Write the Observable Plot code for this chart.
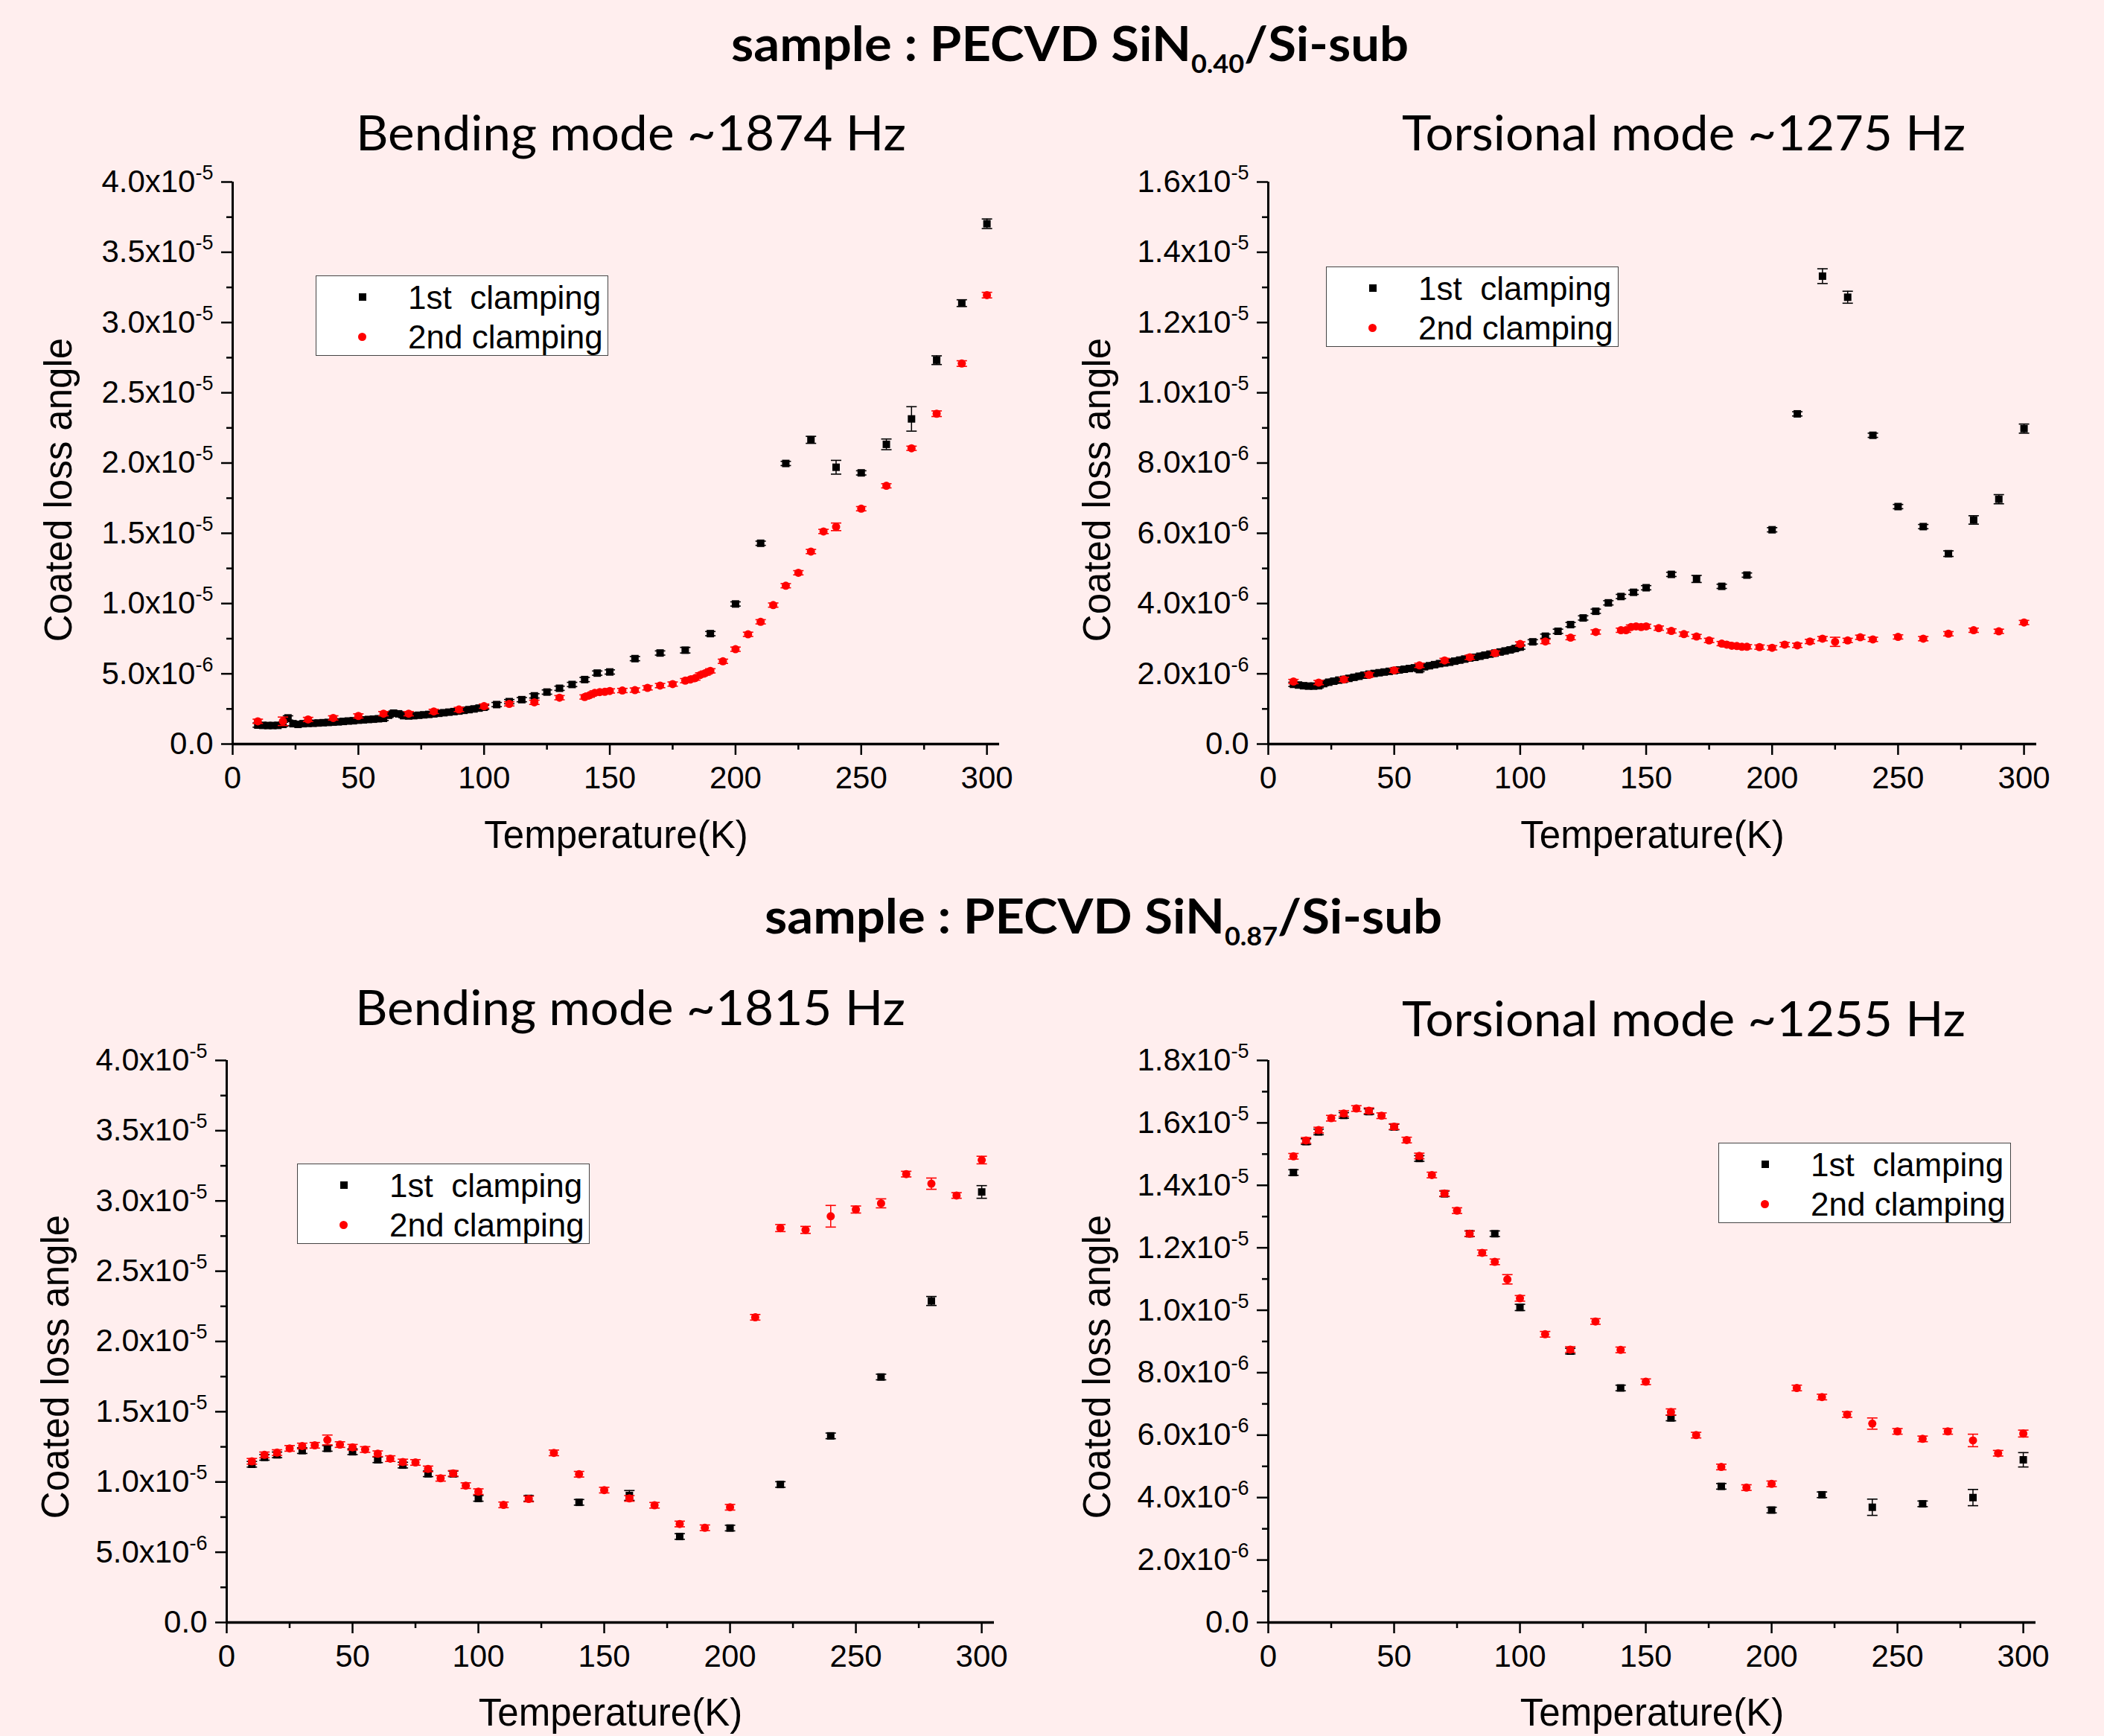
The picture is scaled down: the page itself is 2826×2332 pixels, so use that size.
<!DOCTYPE html>
<html>
<head>
<meta charset="utf-8">
<script src="https://cdn.jsdelivr.net/npm/d3@7"></script>
<script src="https://cdn.jsdelivr.net/npm/@observablehq/plot@0.6"></script>
<style>
  html, body { margin: 0; padding: 0; background: #FFEEEE; }
  #page { position: relative; width: 2826px; height: 2332px; background: #FFEEEE; overflow: hidden; }
  .legend { position: absolute; width: 393px; height: 108px; box-sizing: border-box; background: #fff; border: 1.5px solid #444; font-family: "Liberation Sans", Arial, sans-serif; font-size: 44px; }
  .legend .txt { position: absolute; left: 123px; line-height: 44px; white-space: pre; color: #000; }
  .legend .sq { position: absolute; width: 10px; height: 10px; background: #000; }
  .legend .dt { position: absolute; width: 11px; height: 11px; border-radius: 50%; background: #f00; }
</style>
</head>
<body>
<div id="page"></div>
<script>
// ---------- shared axes ----------
const xMajor = [0, 50, 100, 150, 200, 250, 300];
const xLabels = ["0", "50", "100", "150", "200", "250", "300"];
const xMinor = [25, 75, 125, 175, 225, 275];

// y values are in units of 1e-6
const yMajor40 = [0, 5, 10, 15, 20, 25, 30, 35, 40];
const yLabels40 = ["0.0", "5.0x10^-6", "1.0x10^-5", "1.5x10^-5", "2.0x10^-5", "2.5x10^-5", "3.0x10^-5", "3.5x10^-5", "4.0x10^-5"];
const yMinor40 = [2.5, 7.5, 12.5, 17.5, 22.5, 27.5, 32.5, 37.5];
const yMajor16 = [0, 2, 4, 6, 8, 10, 12, 14, 16];
const yLabels16 = ["0.0", "2.0x10^-6", "4.0x10^-6", "6.0x10^-6", "8.0x10^-6", "1.0x10^-5", "1.2x10^-5", "1.4x10^-5", "1.6x10^-5"];
const yMinor16 = [1, 3, 5, 7, 9, 11, 13, 15];
const yMajor18 = [0, 2, 4, 6, 8, 10, 12, 14, 16, 18];
const yLabels18 = ["0.0", "2.0x10^-6", "4.0x10^-6", "6.0x10^-6", "8.0x10^-6", "1.0x10^-5", "1.2x10^-5", "1.4x10^-5", "1.6x10^-5", "1.8x10^-5"];
const yMinor18 = [1, 3, 5, 7, 9, 11, 13, 15, 17];

const seriesNames = ["1st  clamping", "2nd clamping"];

// ---------- Panel A: SiN0.40 bending ~1874 Hz ----------
const A_T1 = [10,12,14,16,18,20,22,24,26,28,30,32,34,36,38,40,42,44,46,48,50,52,54,56,58,60,62,64,66,68,70,72,74,76,78,80,82,84,86,88,90,92,94,96,98,100,
  105,110,115,120,125,130,135,140,145,150,160,170,180,190,200,210,220,230,240,250,260,270,280,290,300];
const A_V1 = [1.35,1.33,1.32,1.32,1.33,1.40,1.86,1.45,1.40,1.45,1.47,1.48,1.50,1.52,1.54,1.56,1.58,1.61,1.64,1.66,1.70,1.72,1.75,1.77,1.80,1.83,2.05,2.20,2.15,2.02,2.00,2.02,2.05,2.08,2.11,2.15,2.19,2.23,2.27,2.31,2.35,2.40,2.45,2.50,2.56,2.62,
  2.81,3.02,3.16,3.43,3.70,3.97,4.24,4.59,5.05,5.13,6.08,6.48,6.68,7.86,9.97,14.29,19.97,21.65,19.70,19.30,21.33,23.14,27.32,31.38,37.03];
const A_E1 = [0.15,0.15,0.15,0.15,0.15,0.15,0.15,0.15,0.15,0.15,0.15,0.15,0.15,0.15,0.15,0.15,0.15,0.15,0.15,0.15,0.15,0.15,0.15,0.15,0.15,0.15,0.15,0.15,0.15,0.15,0.15,0.15,0.15,0.15,0.15,0.15,0.15,0.15,0.15,0.15,0.15,0.15,0.15,0.15,0.15,0.15,
  0.15,0.15,0.15,0.15,0.15,0.15,0.15,0.15,0.15,0.15,0.15,0.15,0.2,0.15,0.15,0.15,0.15,0.25,0.49,0.15,0.38,0.87,0.31,0.24,0.34];
const A_T2 = [10,20,30,40,50,60,70,80,90,100,110,120,130,140,142,144,146,148,150,155,160,165,170,175,180,182,184,186,188,190,195,200,205,210,215,220,225,230,235,240,250,260,270,280,290,300];
const A_V2 = [1.62,1.62,1.75,1.86,2.00,2.16,2.16,2.32,2.46,2.70,2.86,2.97,3.30,3.35,3.48,3.64,3.70,3.72,3.78,3.81,3.84,4.00,4.16,4.27,4.51,4.59,4.70,4.92,5.05,5.21,5.89,6.75,7.81,8.70,9.89,11.27,12.19,13.70,15.13,15.46,16.75,18.38,21.05,23.51,27.08,31.95];
const A_E2 = [0.15,0.3,0.15,0.15,0.15,0.15,0.15,0.15,0.15,0.15,0.15,0.15,0.15,0.15,0.15,0.15,0.15,0.15,0.15,0.15,0.15,0.15,0.15,0.15,0.15,0.15,0.15,0.15,0.15,0.15,0.15,0.15,0.15,0.15,0.15,0.15,0.15,0.15,0.15,0.27,0.15,0.15,0.15,0.2,0.2,0.2];

// ---------- Panel B: SiN0.40 torsional ~1275 Hz ----------
const B_T1 = [10,12,14,16,18,20,22,24,26,28,30,32,34,36,38,40,42,44,46,48,50,52,54,56,58,60,62,64,66,68,70,72,74,76,78,80,82,84,86,88,90,92,94,96,98,100,
  105,110,115,120,125,130,135,140,145,150,160,170,180,190,200,210,220,230,240,250,260,270,280,290,300];
const B_V1 = [1.70,1.68,1.66,1.65,1.65,1.66,1.72,1.76,1.79,1.82,1.84,1.87,1.90,1.93,1.96,1.99,2.01,2.03,2.05,2.07,2.09,2.11,2.13,2.15,2.17,2.12,2.20,2.23,2.26,2.29,2.31,2.33,2.36,2.39,2.42,2.45,2.47,2.50,2.53,2.56,2.59,2.62,2.65,2.68,2.72,2.76,
  2.91,3.07,3.21,3.40,3.59,3.78,4.02,4.20,4.32,4.45,4.83,4.70,4.49,4.81,6.10,9.40,13.32,12.72,8.79,6.76,6.19,5.42,6.38,6.97,8.98];
const B_E1 = [0.06,0.06,0.06,0.06,0.06,0.06,0.06,0.06,0.06,0.06,0.06,0.06,0.06,0.06,0.06,0.06,0.06,0.06,0.06,0.06,0.06,0.06,0.06,0.06,0.06,0.06,0.06,0.06,0.06,0.06,0.06,0.06,0.06,0.06,0.06,0.06,0.06,0.06,0.06,0.06,0.06,0.06,0.06,0.06,0.06,0.06,
  0.06,0.06,0.06,0.06,0.06,0.06,0.06,0.06,0.06,0.06,0.06,0.1,0.06,0.06,0.06,0.06,0.21,0.17,0.06,0.06,0.06,0.08,0.12,0.13,0.13];
const B_T2 = [10,20,30,40,50,60,70,80,90,100,110,120,130,140,142,144,146,148,150,155,160,165,170,175,180,182,184,186,188,190,195,200,205,210,215,220,225,230,235,240,250,260,270,280,290,300];
const B_V2 = [1.78,1.75,1.84,1.97,2.10,2.24,2.38,2.47,2.59,2.85,2.92,3.03,3.19,3.24,3.24,3.33,3.35,3.33,3.35,3.30,3.22,3.13,3.06,2.95,2.86,2.83,2.80,2.79,2.77,2.77,2.76,2.74,2.83,2.81,2.92,3.00,2.91,2.95,3.04,2.98,3.05,3.00,3.14,3.24,3.21,3.46];
const B_E2 = [0.06,0.06,0.06,0.06,0.06,0.06,0.06,0.06,0.06,0.06,0.06,0.06,0.06,0.06,0.06,0.06,0.06,0.06,0.06,0.06,0.06,0.06,0.06,0.06,0.06,0.06,0.06,0.06,0.06,0.06,0.06,0.06,0.06,0.06,0.06,0.06,0.13,0.06,0.06,0.06,0.06,0.06,0.06,0.06,0.06,0.06];

// ---------- Panel C: SiN0.87 bending ~1815 Hz ----------
const C_T1 = [10,15,20,30,40,50,60,70,80,90,100,120,140,160,180,200,220,240,260,280,300];
const C_V1 = [11.26,11.75,11.93,12.23,12.39,12.15,11.58,11.20,10.58,10.58,8.83,8.83,8.55,9.04,6.12,6.72,9.82,13.28,17.47,22.88,30.64];
const C_E1 = [0.2,0.2,0.2,0.2,0.2,0.2,0.2,0.2,0.2,0.2,0.2,0.2,0.2,0.35,0.2,0.2,0.2,0.2,0.2,0.32,0.45];
const C_T2 = [10,15,20,25,30,35,40,45,50,55,60,65,70,75,80,85,90,95,100,110,120,130,140,150,160,170,180,190,200,210,220,230,240,250,260,270,280,290,300];
const C_V2 = [11.47,11.93,12.09,12.39,12.56,12.61,12.99,12.66,12.47,12.31,12.01,11.66,11.42,11.39,10.93,10.26,10.61,9.74,9.31,8.37,8.79,12.07,10.55,9.42,8.83,8.34,7.01,6.74,8.20,21.72,28.07,27.94,28.91,29.39,29.83,31.91,31.23,30.39,32.91];
const C_E2 = [0.2,0.2,0.2,0.2,0.2,0.2,0.35,0.2,0.2,0.2,0.2,0.2,0.2,0.2,0.2,0.2,0.2,0.2,0.2,0.2,0.2,0.2,0.2,0.2,0.2,0.2,0.2,0.2,0.2,0.2,0.25,0.25,0.77,0.25,0.32,0.2,0.4,0.2,0.27];

// ---------- Panel D: SiN0.87 torsional ~1255 Hz ----------
const D_T1 = [10,15,20,30,40,50,60,70,80,90,100,120,140,160,180,200,220,240,260,280,300];
const D_V1 = [14.41,15.40,15.71,16.24,16.36,15.87,14.86,13.73,12.45,12.45,10.09,8.69,7.51,6.55,4.36,3.60,4.09,3.69,3.80,4.00,5.21];
const D_E1 = [0.09,0.09,0.09,0.09,0.09,0.09,0.09,0.09,0.09,0.09,0.1,0.09,0.09,0.09,0.09,0.09,0.09,0.26,0.09,0.26,0.23];
const D_T2 = [10,15,20,25,30,35,40,45,50,55,60,65,70,75,80,85,90,95,100,110,120,130,140,150,160,170,180,190,200,210,220,230,240,250,260,270,280,290,300];
const D_V2 = [14.93,15.44,15.77,16.15,16.30,16.46,16.39,16.23,15.88,15.45,14.94,14.33,13.74,13.19,12.45,11.84,11.55,10.99,10.38,9.23,8.74,9.64,8.73,7.71,6.74,6.00,4.98,4.32,4.44,7.51,7.22,6.66,6.37,6.12,5.88,6.12,5.83,5.42,6.05];
const D_E2 = [0.09,0.09,0.09,0.09,0.09,0.09,0.09,0.09,0.09,0.09,0.09,0.09,0.09,0.09,0.09,0.09,0.09,0.15,0.09,0.09,0.09,0.09,0.09,0.09,0.1,0.09,0.09,0.09,0.09,0.09,0.09,0.09,0.18,0.09,0.09,0.09,0.2,0.09,0.11];

// ---------- titles ----------
const mainTitles = [
  {pre: "sample : PECVD SiN", sub: "0.40", post: "/Si-sub"},
  {pre: "sample : PECVD SiN", sub: "0.87", post: "/Si-sub"}
];
const panelTitles = ["Bending mode ~1874 Hz", "Torsional mode ~1275 Hz", "Bending mode ~1815 Hz", "Torsional mode ~1255 Hz"];
const xTitle = "Temperature(K)";
const yTitle = "Coated loss angle";

// ---------- layout (pixels) ----------
const panels = [
  {left: 0,    top: 200,  width: 1413, height: 980, mL: 312, mR: 71, mT: 44, mB: 181, yMax: 40, yMajor: yMajor40, yLabels: yLabels40, yMinor: yMinor40,
   T1: A_T1, V1: A_V1, E1: A_E1, T2: A_T2, V2: A_V2, E2: A_E2, ylDx: -233, ylDy: 36, xlDy: 123, legend: [424, 370]},
  {left: 1413, top: 200,  width: 1413, height: 980, mL: 290, mR: 91, mT: 44, mB: 181, yMax: 16, yMajor: yMajor16, yLabels: yLabels16, yMinor: yMinor16,
   T1: B_T1, V1: B_V1, E1: B_E1, T2: B_T2, V2: B_V2, E2: B_E2, ylDx: -229, ylDy: 36, xlDy: 123, legend: [1781, 358]},
  {left: 0,    top: 1380, width: 1413, height: 952, mL: 304, mR: 78, mT: 44, mB: 153, yMax: 40, yMajor: yMajor40, yLabels: yLabels40, yMinor: yMinor40,
   T1: C_T1, V1: C_V1, E1: C_E1, T2: C_T2, V2: C_V2, E2: C_E2, ylDx: -229, ylDy: 34, xlDy: 122, legend: [399, 1563]},
  {left: 1413, top: 1380, width: 1413, height: 952, mL: 290, mR: 92, mT: 44, mB: 153, yMax: 18, yMajor: yMajor18, yLabels: yLabels18, yMinor: yMinor18,
   T1: D_T1, V1: D_V1, E1: D_E1, T2: D_T2, V2: D_V2, E2: D_E2, ylDx: -229, ylDy: 34, xlDy: 122, legend: [2308, 1535]}
];

const capSymbol = {
  draw(ctx, size) {
    const r = Math.sqrt(size / Math.PI);
    ctx.moveTo(-r, 0);
    ctx.lineTo(r, 0);
  }
};

function errorBars(rows, color) {
  return [
    Plot.ruleX(rows, {x: "T", y1: d => d.v - d.e, y2: d => d.v + d.e, stroke: color, strokeWidth: 1.5}),
    Plot.dot(rows, {x: "T", y: d => d.v + d.e, symbol: capSymbol, r: 7, stroke: color, fill: "none", strokeWidth: 1.6}),
    Plot.dot(rows, {x: "T", y: d => d.v - d.e, symbol: capSymbol, r: 7, stroke: color, fill: "none", strokeWidth: 1.6})
  ];
}

const page = document.getElementById("page");
const xLabelMap = new Map(xMajor.map((v, i) => [v, xLabels[i]]));

panels.forEach((p, k) => {
  const rows1 = p.T1.map((t, i) => ({T: t, v: p.V1[i], e: p.E1[i]}));
  const rows2 = p.T2.map((t, i) => ({T: t, v: p.V2[i], e: p.E2[i]}));
  const yLabelMap = new Map(p.yMajor.map((v, i) => [v, p.yLabels[i]]));
  const svg = Plot.plot({
    width: p.width, height: p.height,
    marginLeft: p.mL, marginRight: p.mR, marginTop: p.mT, marginBottom: p.mB,
    x: {domain: [0, 305], label: null},
    y: {domain: [0, p.yMax], label: null},
    style: {background: "transparent", overflow: "visible", fontFamily: "'Liberation Sans', Arial, sans-serif", fontSize: "42px", color: "#000"},
    marks: [
      Plot.axisX(xMinor, {tickSize: 8, strokeWidth: 2.5, tickFormat: () => "", label: null}),
      Plot.axisX(xMajor, {tickSize: 15, strokeWidth: 2.5, tickPadding: 15, tickFormat: d => xLabelMap.get(d), label: null}),
      Plot.axisY(p.yMinor, {tickSize: 8, strokeWidth: 2.5, tickFormat: () => "", label: null}),
      Plot.axisY(p.yMajor, {tickSize: 15, strokeWidth: 2.5, tickPadding: 11, tickFormat: d => yLabelMap.get(d), label: null}),
      Plot.ruleY([0], {strokeWidth: 3.5}),
      Plot.ruleX([0], {strokeWidth: 3}),
      ...errorBars(rows1, "#000"),
      Plot.dot(rows1, {x: "T", y: "v", symbol: "square", r: 5.64, fill: "#000"}),
      ...errorBars(rows2, "#ff0000"),
      Plot.dot(rows2, {x: "T", y: "v", symbol: "circle", r: 5.5, fill: "#ff0000"}),
      Plot.text([xTitle], {text: d => d, frameAnchor: "bottom", dy: p.xlDy, fontSize: 51, lineAnchor: "middle", textAnchor: "middle"}),
      Plot.text([yTitle], {text: d => d, frameAnchor: "left", rotate: -90, dx: p.ylDx, dy: p.ylDy, fontSize: 51, lineAnchor: "middle", textAnchor: "middle"})
    ]
  });
  svg.style.position = "absolute";
  svg.style.left = p.left + "px";
  svg.style.top = p.top + "px";
  // superscript exponents in y tick labels
  svg.querySelectorAll('g[aria-label="y-axis tick label"] text').forEach(t => {
    const s = t.textContent;
    if (s.includes("^")) {
      const [base, exp] = s.split("^");
      t.textContent = base;
      const ts = document.createElementNS("http://www.w3.org/2000/svg", "tspan");
      ts.setAttribute("dy", "-17");
      ts.setAttribute("font-size", "27");
      ts.textContent = exp;
      t.appendChild(ts);
    }
  });
  page.appendChild(svg);

  // legend
  const lg = document.createElement("div");
  lg.className = "legend";
  lg.style.left = p.legend[0] + "px";
  lg.style.top = p.legend[1] + "px";
  lg.innerHTML =
    `<div class="sq" style="left:57px;top:23px"></div>` +
    `<div class="txt" style="top:7px">${seriesNames[0]}</div>` +
    `<div class="dt" style="left:56px;top:76px"></div>` +
    `<div class="txt" style="top:60px">${seriesNames[1]}</div>`;
  page.appendChild(lg);
});

// title overlay
const NS = "http://www.w3.org/2000/svg";
const ov = document.createElementNS(NS, "svg");
ov.setAttribute("width", 2826);
ov.setAttribute("height", 2332);
ov.style.position = "absolute";
ov.style.left = "0px";
ov.style.top = "0px";
ov.style.pointerEvents = "none";
page.appendChild(ov);

function addText(str, x, y, len, size, weight) {
  const t = document.createElementNS(NS, "text");
  t.setAttribute("x", x); t.setAttribute("y", y);
  t.setAttribute("font-family", "Lato, 'Open Sans', sans-serif");
  t.setAttribute("font-size", size);
  t.setAttribute("font-weight", weight);
  t.setAttribute("textLength", len);
  t.setAttribute("lengthAdjust", "spacingAndGlyphs");
  t.textContent = str;
  ov.appendChild(t);
  return t;
}
function addMain(mt, x, y, len) {
  const t = addText(mt.pre, x, y, len, 65, 700);
  const s = document.createElementNS(NS, "tspan");
  s.setAttribute("dy", "16"); s.setAttribute("font-size", "34"); s.textContent = mt.sub;
  const q = document.createElementNS(NS, "tspan");
  q.setAttribute("dy", "-16"); q.textContent = mt.post;
  t.appendChild(s); t.appendChild(q);
}
addMain(mainTitles[0], 982, 82, 910);
addMain(mainTitles[1], 1027, 1254, 910);
addText(panelTitles[0], 478, 202, 739, 65, 400);
addText(panelTitles[1], 1883, 202, 757, 65, 400);
addText(panelTitles[2], 477, 1377, 739, 65, 400);
addText(panelTitles[3], 1883, 1392, 757, 65, 400);
</script>
</body>
</html>
